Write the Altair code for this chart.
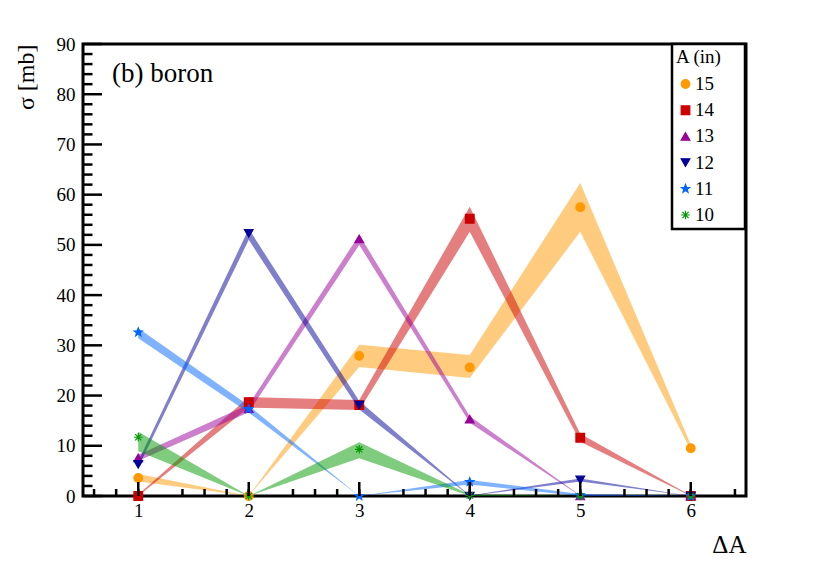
import math
import altair as alt
import pandas as pd

# ---------------- data ----------------
x_vals = [1, 2, 3, 4, 5, 6]
series_names = ["15", "14", "13", "12", "11", "10"]
colors = ["#FF9900", "#CC0000", "#990099", "#000099", "#0066FF", "#009900"]

sig_15 = [3.6, 0.0, 27.9, 25.6, 57.5, 9.5]
lo_15 = [2.9, 0.0, 25.7, 23.5, 52.6, 9.1]
hi_15 = [4.4, 0.0, 30.1, 28.1, 62.3, 10.2]

sig_14 = [0.0, 18.7, 18.1, 55.2, 11.6, 0.0]
lo_14 = [0.0, 17.6, 17.1, 52.6, 10.8, 0.0]
hi_14 = [0.3, 19.7, 19.1, 57.6, 12.4, 0.1]

sig_13 = [7.6, 17.4, 51.2, 15.3, 0.0, 0.0]
lo_13 = [7.0, 16.7, 50.0, 14.6, 0.0, 0.0]
hi_13 = [8.2, 18.2, 52.0, 15.9, 0.1, 0.0]

sig_12 = [6.3, 52.3, 18.1, 0.0, 3.2, 0.0]
lo_12 = [5.7, 51.0, 17.2, 0.0, 2.9, 0.0]
hi_12 = [6.9, 53.2, 18.9, 0.1, 3.5, 0.0]

sig_11 = [32.6, 17.3, 0.0, 2.8, 0.2, 0.0]
lo_11 = [31.4, 16.6, 0.0, 2.3, 0.0, 0.0]
hi_11 = [33.4, 18.0, 0.0, 3.2, 0.4, 0.0]

sig_10 = [11.7, 0.0, 9.3, 0.1, 0.0, 0.0]
lo_10 = [8.9, 0.0, 7.5, 0.0, 0.0, 0.0]
hi_10 = [12.8, 0.0, 10.7, 0.3, 0.0, 0.0]

y_label_vals = [0, 10, 20, 30, 40, 50, 60, 70, 80, 90]
y_major_ticks = [0, 10, 20, 30, 40, 50, 60, 70, 80, 90]
y_minor_ticks = [v for v in range(2, 90, 2) if v % 10 != 0]
x_major_ticks = [1, 2, 3, 4, 5, 6]
x_minor_ticks = [round(0.6 + 0.2 * i, 1) for i in range(30) if (i + 2) % 5 != 0]

# ---------------- build tables ----------------
sigs = [sig_15, sig_14, sig_13, sig_12, sig_11, sig_10]
los = [lo_15, lo_14, lo_13, lo_12, lo_11, lo_10]
his = [hi_15, hi_14, hi_13, hi_12, hi_11, hi_10]
rows = []
for name, s, lo, hi in zip(series_names, sigs, los, his):
    for xv, a, b, c in zip(x_vals, s, lo, hi):
        rows.append({"series": name, "x": xv, "sigma": a, "lo": b, "hi": c})
df = pd.DataFrame(rows)

# marker shapes
star_pts = []
for k in range(10):
    r = 1.0 if k % 2 == 0 else 0.42
    a = -math.pi / 2 + k * math.pi / 5
    star_pts.append(f"{r * math.cos(a):.3f},{r * math.sin(a):.3f}")
star_path = "M" + "L".join(star_pts) + "Z"
aster_path = "M-1,0L1,0M0,-1L0,1M-0.71,-0.71L0.71,0.71M-0.71,0.71L0.71,-0.71"
shapes = ["circle", "square", "triangle-up", "triangle-down", star_path, aster_path]

FONT = "Liberation Serif"

xs = alt.Scale(domain=[0.5, 6.5], nice=False, zero=False)
ys = alt.Scale(domain=[0, 90], nice=False, zero=False)
color_scale = alt.Scale(domain=series_names, range=colors)
fill_scale = alt.Scale(domain=series_names, range=colors)
shape_scale = alt.Scale(domain=series_names, range=shapes)

x_axis = alt.Axis(values=x_vals, title="ΔA", titleFontSize=25, titleX=663, titleY=56,
                  titleAlign="right", titleBaseline="alphabetic", labelFontSize=19,
                  labelFont=FONT, titleFont=FONT,
                  labelPadding=5, labelFlush=False, format="d", ticks=False, tickSize=0,
                  domain=False, grid=False)
y_axis = alt.Axis(values=y_label_vals, title="σ [mb]", titleFontSize=24, titleAngle=270,
                  titleX=-50, titleY=0, titleAlign="right", titleBaseline="alphabetic",
                  labelFont=FONT, titleFont=FONT,
                  labelFontSize=19, labelPadding=8, ticks=False, tickSize=0,
                  domain=False, grid=False)

# non-breaking spaces closed by a zero-width space so they are not trimmed
leg_title = "A (in)" + "\u00a0" * 4 + "\u200b"
leg = alt.Legend(title=leg_title, orient="none", legendX=589, legendY=0, padding=4,
                 strokeColor="black", fillColor="white", titleFontSize=19, labelFontSize=19,
                 titleFont=FONT, labelFont=FONT, titleFontWeight="normal",
                 titlePadding=7.5, rowPadding=6.2, labelOffset=0, symbolOffset=0,
                 symbolSize=75, symbolStrokeWidth=1.2, symbolOpacity=1,
                 labelColor="black", titleColor="black", cornerRadius=0)

bands = alt.Chart(df).mark_area(opacity=0.5, interpolate="linear").encode(
    x=alt.X("x:Q", scale=xs, axis=x_axis),
    y=alt.Y("lo:Q", scale=ys, axis=y_axis),
    y2="hi:Q",
    fill=alt.Fill("series:N", scale=fill_scale, legend=leg),
    detail="series:N",
)

points = alt.Chart(df).mark_point(filled=False, size=75, strokeWidth=1.2, opacity=1).encode(
    x=alt.X("x:Q", scale=xs, axis=x_axis),
    y=alt.Y("sigma:Q", scale=ys, axis=y_axis),
    color=alt.Color("series:N", scale=color_scale, legend=leg),
    fill=alt.Fill("series:N", scale=fill_scale, legend=leg),
    shape=alt.Shape("series:N", scale=shape_scale, legend=leg),
)

ymaj = alt.Chart(pd.DataFrame({"v": y_major_ticks})).mark_rule(color="black", strokeWidth=2.5).encode(
    y=alt.Y("v:Q", scale=ys, axis=y_axis), x=alt.value(0), x2=alt.value(19))
ymin = alt.Chart(pd.DataFrame({"v": y_minor_ticks})).mark_rule(color="black", strokeWidth=2.5).encode(
    y=alt.Y("v:Q", scale=ys, axis=y_axis), x=alt.value(0), x2=alt.value(9.5))
xmaj = alt.Chart(pd.DataFrame({"v": x_major_ticks})).mark_rule(color="black", strokeWidth=2.5).encode(
    x=alt.X("v:Q", scale=xs, axis=x_axis), y=alt.value(452), y2=alt.value(438))
xmin = alt.Chart(pd.DataFrame({"v": x_minor_ticks})).mark_rule(color="black", strokeWidth=2.5).encode(
    x=alt.X("v:Q", scale=xs, axis=x_axis), y=alt.value(452), y2=alt.value(445))

label = alt.Chart(pd.DataFrame({"t": ["(b) boron"]})).mark_text(
    align="left", baseline="alphabetic", fontSize=27, font=FONT, color="black").encode(
    x=alt.value(29), y=alt.value(38), text="t:N")

chart = alt.layer(bands, points, ymaj, ymin, xmaj, xmin, label).properties(
    width=663, height=452,
    autosize=alt.AutoSizeParams(type="none"),
    padding={"left": 75, "top": 36, "right": 60, "bottom": 60},
).configure_view(stroke="black", strokeWidth=3).configure_axis(
    labelFont=FONT, titleFont=FONT, labelColor="black", titleColor="black",
    titleFontWeight="normal").configure_legend(strokeWidth=2.5)

chart.save("out.html", embed_options={"renderer": "svg", "actions": False})
